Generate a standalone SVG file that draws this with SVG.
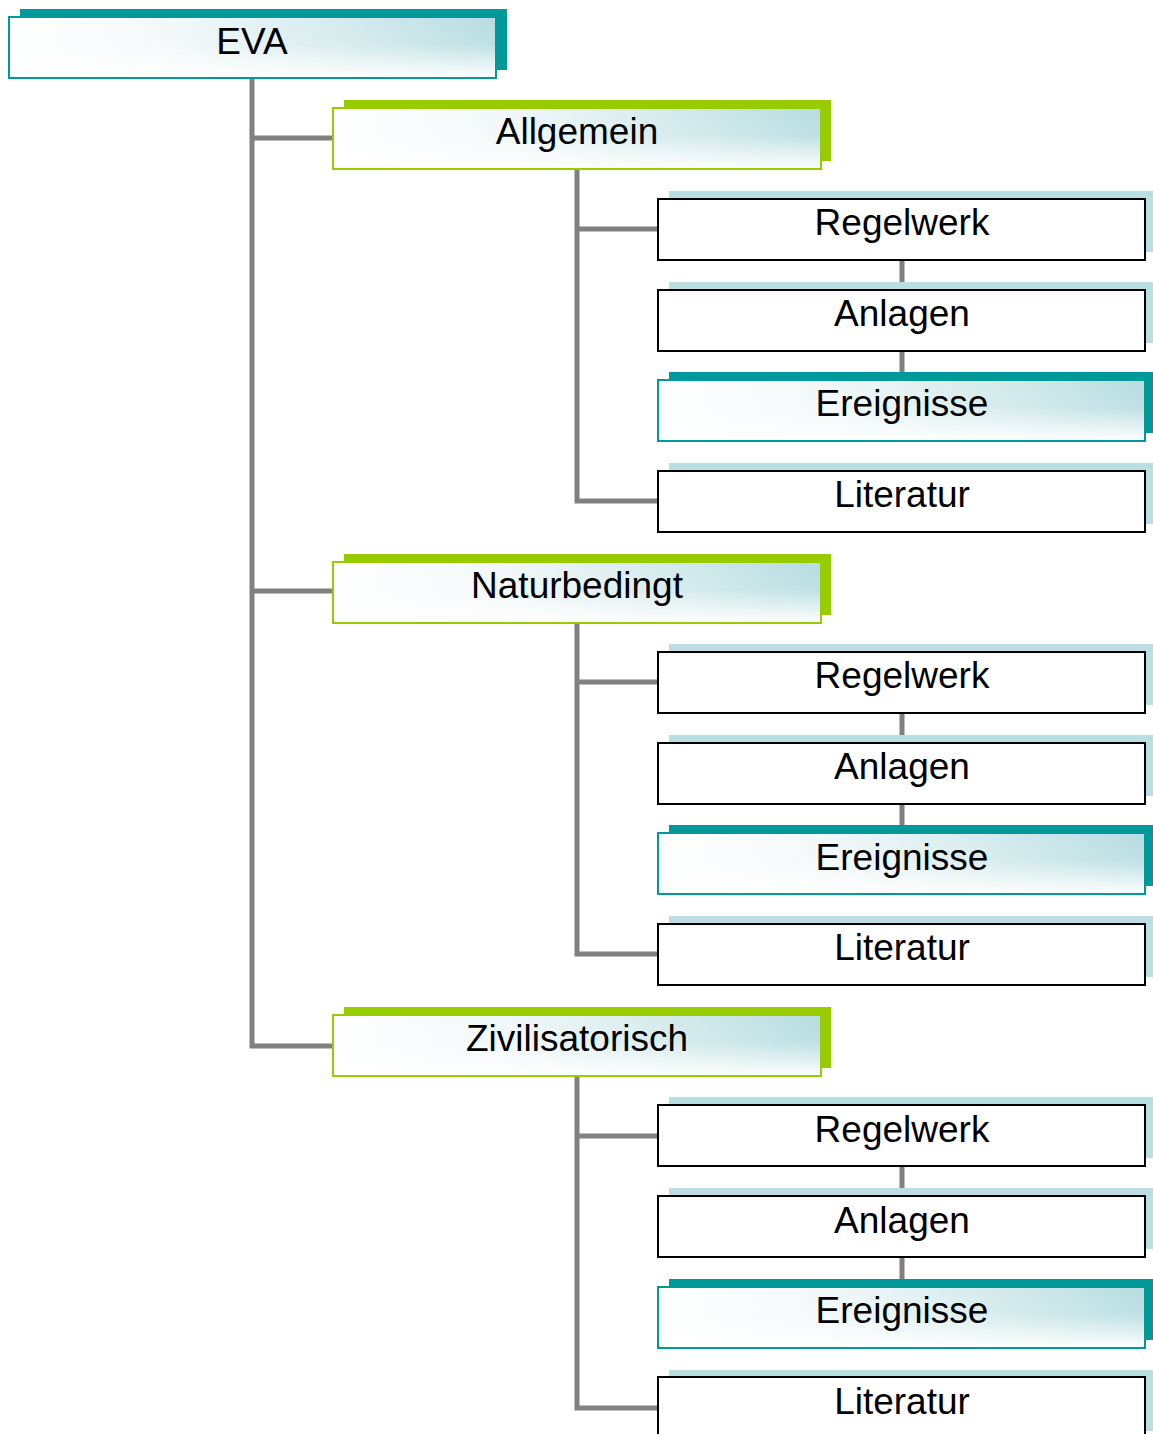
<svg xmlns="http://www.w3.org/2000/svg" width="1153" height="1434" viewBox="0 0 1153 1434">
<defs>
<linearGradient id="gh" x1="0" y1="0" x2="1" y2="0">
<stop offset="0" stop-color="#ffffff"/>
<stop offset="0.35" stop-color="#f2f8f9"/>
<stop offset="0.75" stop-color="#cfe8ea"/>
<stop offset="1" stop-color="#b7dde1"/>
</linearGradient>
<linearGradient id="gv" x1="0" y1="0" x2="0" y2="1">
<stop offset="0" stop-color="#ffffff" stop-opacity="0"/>
<stop offset="0.45" stop-color="#ffffff" stop-opacity="0.1"/>
<stop offset="1" stop-color="#ffffff" stop-opacity="0.95"/>
</linearGradient>
<style>
.t{font-family:"Liberation Sans",Arial,sans-serif;font-size:37px;fill:#000;text-anchor:middle}
.sh-teal{fill:#009999}
.sh-green{fill:#99cc00}
.sh-light{fill:#b9dfe2}
.f-teal{fill:url(#gh);stroke:#009999;stroke-width:2}
.f-green{fill:url(#gh);stroke:#99cc00;stroke-width:2}
.ov{fill:url(#gv)}
.f-plain{fill:#ffffff;stroke:#000000;stroke-width:2}
.c{stroke:#808080;stroke-width:5;fill:none}
</style>
</defs>
<g id="connectors">
<path class="c" d="M252 78 V1046 H333 M252 138 H333 M252 591 H333"/>
<path class="c" d="M577 169 V501 H658 M577 229 H658 M902 260 V290 M902 351 V380"/>
<path class="c" d="M577 622 V954 H658 M577 682 H658 M902 713 V743 M902 804 V833"/>
<path class="c" d="M577 1076 V1408 H658 M577 1136 H658 M902 1166 V1196 M902 1257 V1286"/>
</g>
<g id="n-eva"><rect class="sh-teal" x="20" y="9" width="487" height="61"/><rect class="f-teal" x="9" y="17" width="487" height="61"/><rect class="ov" x="10" y="18" width="485" height="59"/><text class="t" x="252" y="54">EVA</text></g>

<g id="n-allgemein"><rect class="sh-green" x="344" y="100" width="487" height="61"/><rect class="f-green" x="333" y="108" width="488" height="61"/><rect class="ov" x="334" y="109" width="486" height="59"/><text class="t" x="577" y="144">Allgemein</text></g>
<g id="n-a-regelwerk"><rect class="sh-light" x="669" y="191" width="487" height="61"/><rect class="f-plain" x="658" y="199" width="487" height="61"/><text class="t" x="902" y="235">Regelwerk</text></g>
<g id="n-a-anlagen"><rect class="sh-light" x="669" y="282" width="487" height="61"/><rect class="f-plain" x="658" y="290" width="487" height="61"/><text class="t" x="902" y="326">Anlagen</text></g>
<g id="n-a-ereignisse"><rect class="sh-teal" x="669" y="372" width="487" height="61"/><rect class="f-teal" x="658" y="380" width="487" height="61"/><rect class="ov" x="659" y="381" width="485" height="59"/><text class="t" x="902" y="416">Ereignisse</text></g>
<g id="n-a-literatur"><rect class="sh-light" x="669" y="463" width="487" height="61"/><rect class="f-plain" x="658" y="471" width="487" height="61"/><text class="t" x="902" y="507">Literatur</text></g>

<g id="n-naturbedingt"><rect class="sh-green" x="344" y="554" width="487" height="61"/><rect class="f-green" x="333" y="562" width="488" height="61"/><rect class="ov" x="334" y="563" width="486" height="59"/><text class="t" x="577" y="598">Naturbedingt</text></g>
<g id="n-n-regelwerk"><rect class="sh-light" x="669" y="644" width="487" height="61"/><rect class="f-plain" x="658" y="652" width="487" height="61"/><text class="t" x="902" y="688">Regelwerk</text></g>
<g id="n-n-anlagen"><rect class="sh-light" x="669" y="735" width="487" height="61"/><rect class="f-plain" x="658" y="743" width="487" height="61"/><text class="t" x="902" y="779">Anlagen</text></g>
<g id="n-n-ereignisse"><rect class="sh-teal" x="669" y="825" width="487" height="61"/><rect class="f-teal" x="658" y="833" width="487" height="61"/><rect class="ov" x="659" y="834" width="485" height="59"/><text class="t" x="902" y="870">Ereignisse</text></g>
<g id="n-n-literatur"><rect class="sh-light" x="669" y="916" width="487" height="61"/><rect class="f-plain" x="658" y="924" width="487" height="61"/><text class="t" x="902" y="960">Literatur</text></g>

<g id="n-zivilisatorisch"><rect class="sh-green" x="344" y="1007" width="487" height="61"/><rect class="f-green" x="333" y="1015" width="488" height="61"/><rect class="ov" x="334" y="1016" width="486" height="59"/><text class="t" x="577" y="1051">Zivilisatorisch</text></g>
<g id="n-z-regelwerk"><rect class="sh-light" x="669" y="1097" width="487" height="61"/><rect class="f-plain" x="658" y="1105" width="487" height="61"/><text class="t" x="902" y="1142">Regelwerk</text></g>
<g id="n-z-anlagen"><rect class="sh-light" x="669" y="1188" width="487" height="61"/><rect class="f-plain" x="658" y="1196" width="487" height="61"/><text class="t" x="902" y="1233">Anlagen</text></g>
<g id="n-z-ereignisse"><rect class="sh-teal" x="669" y="1279" width="487" height="61"/><rect class="f-teal" x="658" y="1287" width="487" height="61"/><rect class="ov" x="659" y="1288" width="485" height="59"/><text class="t" x="902" y="1323">Ereignisse</text></g>
<g id="n-z-literatur"><rect class="sh-light" x="669" y="1370" width="487" height="61"/><rect class="f-plain" x="658" y="1377" width="487" height="61"/><text class="t" x="902" y="1414">Literatur</text></g>
</svg>
